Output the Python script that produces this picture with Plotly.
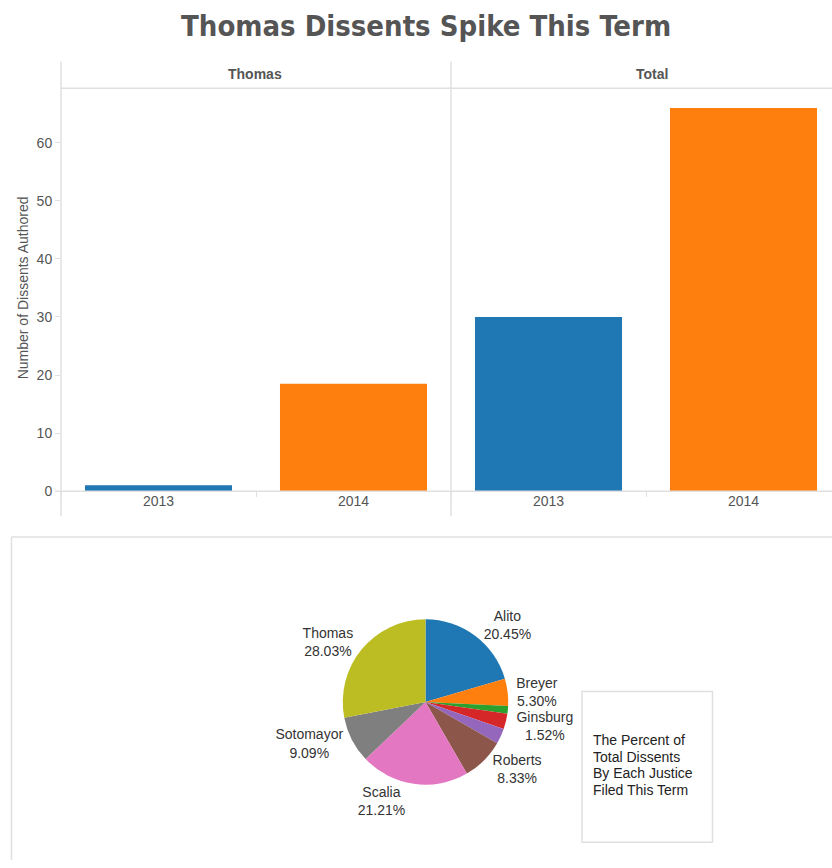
import plotly.graph_objects as go

# ---- data ----
years = ["2013", "2014"]
thomas_dissents = [1, 18.5]
total_dissents = [30, 66]
bar_colors = ["#1f77b4", "#ff7f0e"]

justices = ["Alito", "Breyer", "Ginsburg", "Kagan", "Kennedy", "Roberts", "Scalia", "Sotomayor", "Thomas"]
justice_dissents = [13.5, 3.5, 1, 2, 2, 5.5, 14, 6, 18.5]
show_label = [True, True, True, False, False, True, True, True, True]
pie_colors = ["#1f77b4", "#ff7f0e", "#2ca02c", "#d62728", "#9467bd",
              "#8c564b", "#e377c2", "#7f7f7f", "#bcbd22"]

note_lines = ["The Percent of", "Total Dissents", "By Each Justice", "Filed This Term"]

W, H = 832, 868
def px(x):
    return x / W
def py(y):
    return 1 - y / H

FONT = "Liberation Sans, Arial, sans-serif"
GRID = "#e0e0e0"

fig = go.Figure()

fig.add_trace(go.Bar(x=years, y=thomas_dissents, marker_color=bar_colors,
                     marker_line_width=0, width=0.754, xaxis="x", yaxis="y",
                     showlegend=False, hoverinfo="x+y"))
fig.add_trace(go.Bar(x=years, y=total_dissents, marker_color=bar_colors,
                     marker_line_width=0, width=0.754, xaxis="x2", yaxis="y2",
                     showlegend=False, hoverinfo="x+y"))

templ = ["%{label}<br>%{percent:.2%}" if s else "" for s in show_label]
fig.add_trace(go.Pie(labels=justices, values=justice_dissents, sort=False,
                     direction="clockwise", rotation=0,
                     marker=dict(colors=pie_colors, line=dict(width=0)),
                     texttemplate=templ, textposition="outside",
                     textfont=dict(family=FONT, size=14, color="#333333"),
                     domain=dict(x=[px(342), px(509)], y=[py(792), py(625)]),
                     showlegend=False))

ydom = [py(495.7), py(89)]
ymax = 69.4
axis_font = dict(family=FONT, size=14, color="#555555")

fig.update_layout(
    width=W, height=H,
    margin=dict(l=0, r=0, t=0, b=0),
    paper_bgcolor="white", plot_bgcolor="white",
    bargap=0.25,
    xaxis=dict(domain=[px(61), px(451)], type="category", range=[-0.5, 1.5],
               showgrid=False, zeroline=False, showline=False,
               ticks="outside", ticklen=5, tickcolor=GRID, tickson="boundaries",
               tickfont=axis_font, anchor="y", fixedrange=True),
    xaxis2=dict(domain=[px(451), 1], type="category", range=[-0.5, -0.5 + 381 / 195],
                showgrid=False, zeroline=False, showline=False,
                ticks="outside", ticklen=5, tickcolor=GRID, tickson="boundaries",
                tickfont=axis_font, anchor="y2", fixedrange=True),
    yaxis=dict(domain=ydom, range=[0, ymax], showgrid=False, zeroline=False,
               showline=False, ticks="outside", ticklen=5, tickcolor=GRID,
               tickvals=[0, 10, 20, 30, 40, 50, 60], tickfont=axis_font,
               anchor="x", fixedrange=True),
    yaxis2=dict(domain=ydom, range=[0, ymax], showgrid=False, zeroline=False,
                showline=False, showticklabels=False, ticks="",
                anchor="x2", fixedrange=True),
)

line = dict(color=GRID, width=1.5)
shapes = [
    dict(type="line", xref="paper", yref="paper", x0=px(61), x1=px(61), y0=py(62), y1=py(521), line=line),
    dict(type="line", xref="paper", yref="paper", x0=px(451), x1=px(451), y0=py(62), y1=py(521), line=line),
    dict(type="line", xref="paper", yref="paper", x0=px(61), x1=1, y0=py(89), y1=py(89), line=line),
    dict(type="line", xref="paper", yref="paper", x0=px(55), x1=1, y0=py(495.7), y1=py(495.7), line=line),
    # lower dashboard box
    dict(type="line", xref="paper", yref="paper", x0=px(11.5), x1=1, y0=py(542), y1=py(542), line=line),
    dict(type="line", xref="paper", yref="paper", x0=px(11.5), x1=px(11.5), y0=py(542), y1=0, line=line),
    # text box
    dict(type="rect", xref="paper", yref="paper", x0=px(582), x1=px(712.5), y0=py(850), y1=py(698),
         line=dict(color=GRID, width=1.5), fillcolor="rgba(0,0,0,0)"),
]
fig.update_layout(shapes=shapes)

annotations = [
    dict(text="<b>Thomas Dissents Spike This Term</b>", x=px(425.5), y=py(26), xref="paper", yref="paper",
         showarrow=False, xanchor="center", yanchor="middle",
         font=dict(family="DejaVu Sans Condensed, DejaVu Sans, sans-serif", size=29, color="#555555")),
    dict(text="<b>Thomas</b>", x=px(255), y=py(75), xref="paper", yref="paper",
         showarrow=False, xanchor="center", yanchor="middle",
         font=dict(family=FONT, size=14, color="#555555")),
    dict(text="<b>Total</b>", x=px(652), y=py(75), xref="paper", yref="paper",
         showarrow=False, xanchor="center", yanchor="middle",
         font=dict(family=FONT, size=14, color="#555555")),
    dict(text="Number of Dissents Authored", x=px(23), y=py(291), xref="paper", yref="paper",
         showarrow=False, xanchor="center", yanchor="middle", textangle=-90,
         font=dict(family=FONT, size=14, color="#555555")),
]
for i, t in enumerate(note_lines):
    annotations.append(dict(text=t, x=px(593), y=py(747 + 16.8 * i), xref="paper", yref="paper",
                            showarrow=False, xanchor="left", yanchor="middle", xshift=-2,
                            font=dict(family=FONT, size=14, color="#222222")))
fig.update_layout(annotations=annotations)

fig.write_html("out.html",
               post_script="document.querySelectorAll('path.textline').forEach(function(e){e.style.display='none';});")
